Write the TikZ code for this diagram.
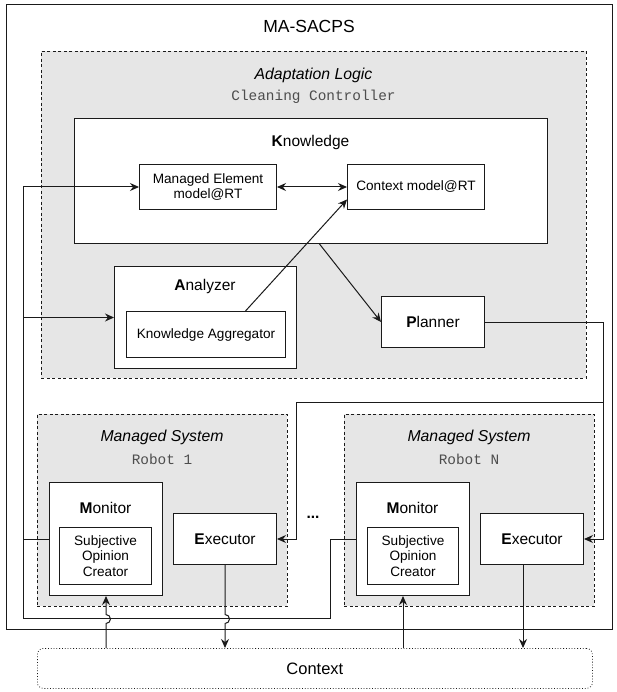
\documentclass[tikz,border=0pt]{standalone}
\usepackage{fontspec}
\setmainfont{Liberation Sans}
\setmonofont{Liberation Mono}
\usetikzlibrary{arrows.meta,calc}
\definecolor{grayfill}{HTML}{E6E6E6}
\definecolor{linec}{HTML}{1A1A1A}
\definecolor{monoc}{HTML}{4D4D4D}
\tikzset{
  box/.style={draw=linec, line width=1pt, fill=white, inner sep=0pt, anchor=north west},
  dbox/.style={draw=linec, line width=0.8pt, fill=grayfill, dash pattern=on 3pt off 2.5pt, inner sep=0pt, anchor=north west},
  ttl/.style={font=\fontsize{15.5}{18}\selectfont},
  ittl/.style={font=\fontsize{15.8}{18}\selectfont\itshape},
  mono/.style={font=\fontsize{14.4}{17}\selectfont\ttfamily, text=monoc},
  small/.style={font=\fontsize{13.6}{15.5}\selectfont, align=center},
  conn/.style={draw=linec, line width=1pt},
  arr/.style={conn, -{Stealth[length=9pt,width=8pt,inset=3pt]}},
  arrb/.style={conn, {Stealth[length=9pt,width=8pt,inset=3pt]}-{Stealth[length=9pt,width=8pt,inset=3pt]}},
}
\begin{document}
\begin{tikzpicture}[x=1pt,y=-1pt]
\useasboundingbox (0,0) rectangle (616,692);
% outer
\node[box, minimum width=606pt, minimum height=625pt] (outer) at (6,4) {};
\node[font=\fontsize{17.5}{20}\selectfont] (tma) at (309,26) {MA-SACPS};
% adaptation logic
\node[dbox, minimum width=545pt, minimum height=327pt] (al) at (41,51) {};
\node[ittl] (tal) at (313.5,75) {Adaptation Logic};
\node[mono] (tcc) at (313.5,97) {Cleaning Controller};
% knowledge
\node[box, minimum width=473pt, minimum height=125pt] (k) at (74,118) {};
\node[ttl] (tk) at (310.5,142) {\textbf{K}nowledge};
\node[box, small, minimum width=137pt, minimum height=45pt, anchor=north west] (me) at (139,164) {Managed Element\\model@RT};
\node[box, small, minimum width=137pt, minimum height=45pt] (cm) at (347,164) {Context model@RT};
% analyzer
\node[box, minimum width=182pt, minimum height=102pt] (an) at (114,266) {};
\node[ttl] (tan) at (205,286) {\textbf{A}nalyzer};
\node[box, small, minimum width=159pt, minimum height=46pt] (ka) at (126,311) {Knowledge Aggregator};
% planner
\node[box, ttl, minimum width=103pt, minimum height=51pt] (pl) at (381,296) {\textbf{P}lanner};
% robot 1
\node[dbox, minimum width=250pt, minimum height=192pt] (r1) at (37,414) {};
\node[ittl] (tr1) at (162,437) {Managed System};
\node[mono] (tr1b) at (162,459) {Robot 1};
\node[box, minimum width=113pt, minimum height=113pt] (m1) at (49,482) {};
\node[ttl] (tm1) at (105.5,508) {\textbf{M}onitor};
\node[box, small, minimum width=92pt, minimum height=57pt, font=\fontsize{13.6}{15.6}\selectfont] (s1) at (59,527) {Subjective\\Opinion\\Creator};
\node[box, ttl, minimum width=103pt, minimum height=51pt] (e1) at (173,513) {\textbf{E}xecutor};
% robot N
\node[dbox, minimum width=250pt, minimum height=192pt] (rn) at (344,414) {};
\node[ittl] (trn) at (469,437) {Managed System};
\node[mono] (trnb) at (469,459) {Robot N};
\node[box, minimum width=113pt, minimum height=113pt] (mn) at (356,482) {};
\node[ttl] (tmn) at (412.5,508) {\textbf{M}onitor};
\node[box, small, minimum width=91pt, minimum height=57pt, font=\fontsize{13.6}{15.6}\selectfont] (sn) at (367,527) {Subjective\\Opinion\\Creator};
\node[box, ttl, minimum width=103pt, minimum height=51pt] (en) at (480,513) {\textbf{E}xecutor};
\node[ttl, font=\fontsize{15.5}{18}\selectfont\bfseries] (dots) at (313,517) {...};
% context
\node[draw=linec, line width=0.8pt, dotted, rounded corners=6pt, minimum width=555pt, minimum height=40pt, anchor=north west, inner sep=0pt, font=\fontsize{16.5}{19}\selectfont] (ctx) at (37,648) {Context};
% connectors in knowledge
\draw[arrb] (me.east) -- (cm.west);
\draw[arr] ([xshift=39.5pt]ka.north) -- ([yshift=-12.5pt]cm.west);
\draw[arr] ([xshift=8.5pt]k.south) -- (pl.west);
% feedback from monitors
\coordinate (lbot) at (23,618);
\coordinate (rbot) at (330,618);
\draw[arr] (mn.west) -| (rbot) -- (lbot) |- (me.west);
\draw[arr] (lbot |- an.west) -- (an.west);
\draw[conn] (m1.west) -- (m1.west -| lbot);
% planner to executors
\coordinate (pv) at (603,402);
\coordinate (ph) at (296,402);
\draw[arr] (pl.east) -| (pv) |- (en.east);
\draw[arr] (pv) -- (ph) |- (e1.east);
% context interaction
\draw[arr] (m1.south |- ctx.north) -- ($(m1.south)+(0,27.5)$) arc[start angle=-90, end angle=90, radius=4.5pt] -- (m1.south);
\draw[arr] (e1.south) -- ($(e1.south)+(0,49.5)$) arc[start angle=90, end angle=-90, radius=4.5pt] -- (e1.south |- ctx.north);
\coordinate (mnx) at (403,0);
\coordinate (enx) at (523,0);
\draw[arr] (mnx |- ctx.north) -- (mnx |- mn.south);
\draw[arr] (enx |- en.south) -- (enx |- ctx.north);
\end{tikzpicture}
\end{document}
